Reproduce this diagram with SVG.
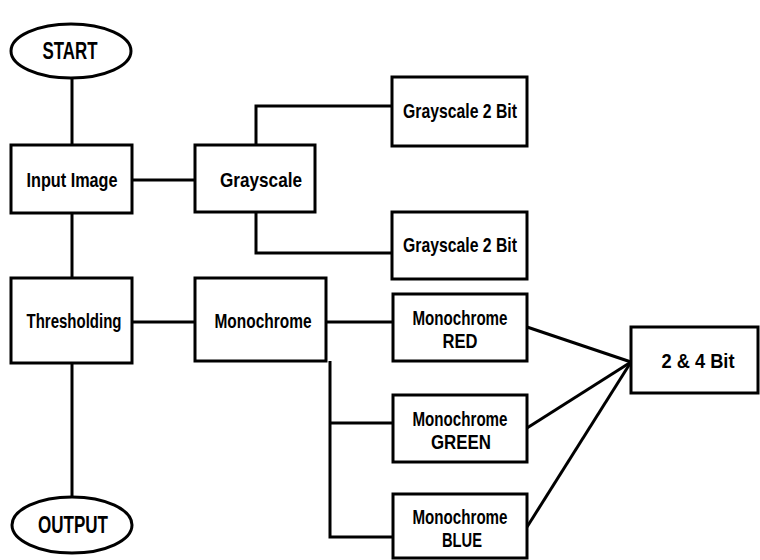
<svg xmlns="http://www.w3.org/2000/svg" width="760" height="560" viewBox="0 0 760 560">
<style>
.box{fill:#fff;stroke:#000;stroke-width:3}
.ln{fill:none;stroke:#000;stroke-width:3}
text{font-family:"Liberation Sans",Arial,sans-serif;font-weight:bold;font-size:21px;text-anchor:middle;fill:#000}
.big{font-size:23px}
</style>
<rect width="760" height="560" fill="#fff"/>
<g id="connectors">
<line class="ln" x1="72" y1="78" x2="72" y2="145"/>
<line class="ln" x1="72" y1="213" x2="72" y2="278"/>
<line class="ln" x1="72" y1="363" x2="72" y2="497"/>
<line class="ln" x1="132" y1="180" x2="195" y2="180"/>
<polyline class="ln" points="256,145 256,106 392,106"/>
<polyline class="ln" points="256,212 256,253 392,253"/>
<line class="ln" x1="132" y1="322" x2="195" y2="322"/>
<line class="ln" x1="326" y1="322" x2="393" y2="322"/>
<polyline class="ln" points="330,361 330,537 393,537"/>
<line class="ln" x1="330" y1="423" x2="393" y2="423"/>
<line class="ln" x1="527" y1="327" x2="631" y2="362"/>
<line class="ln" x1="527" y1="428" x2="631" y2="362"/>
<line class="ln" x1="527" y1="527" x2="631" y2="362"/>
</g>
<g id="start"><ellipse class="box" cx="71" cy="51" rx="60" ry="27"/><text class="big" x="70" y="59" textLength="55" lengthAdjust="spacingAndGlyphs">START</text></g>
<g id="input"><rect class="box" x="11" y="145" width="121" height="68"/><text x="72" y="187" textLength="91" lengthAdjust="spacingAndGlyphs">Input Image</text></g>
<g id="grayscale"><rect class="box" x="195" y="145" width="120" height="67"/><text x="261" y="187" textLength="82" lengthAdjust="spacingAndGlyphs">Grayscale</text></g>
<g id="gray2a"><rect class="box" x="392" y="77" width="135" height="69"/><text x="460" y="118" textLength="114" lengthAdjust="spacingAndGlyphs">Grayscale 2 Bit</text></g>
<g id="gray2b"><rect class="box" x="392" y="212" width="135" height="67"/><text x="460" y="252" textLength="114" lengthAdjust="spacingAndGlyphs">Grayscale 2 Bit</text></g>
<g id="thresholding"><rect class="box" x="11" y="278" width="121" height="85"/><text x="74" y="328" textLength="95" lengthAdjust="spacingAndGlyphs">Thresholding</text></g>
<g id="monochrome"><rect class="box" x="195" y="278" width="131" height="83"/><text x="263" y="328" textLength="97" lengthAdjust="spacingAndGlyphs">Monochrome</text></g>
<g id="mono-red"><rect class="box" x="393" y="294" width="134" height="67"/><text x="460" y="325" textLength="95" lengthAdjust="spacingAndGlyphs">Monochrome</text><text x="460" y="348" textLength="35" lengthAdjust="spacingAndGlyphs">RED</text></g>
<g id="mono-green"><rect class="box" x="393" y="395" width="134" height="67"/><text x="460" y="426" textLength="95" lengthAdjust="spacingAndGlyphs">Monochrome</text><text x="461" y="449" textLength="60" lengthAdjust="spacingAndGlyphs">GREEN</text></g>
<g id="mono-blue"><rect class="box" x="393" y="494" width="134" height="64"/><text x="460" y="524" textLength="95" lengthAdjust="spacingAndGlyphs">Monochrome</text><text x="462" y="547" textLength="40" lengthAdjust="spacingAndGlyphs">BLUE</text></g>
<g id="bits"><rect class="box" x="631" y="327" width="127" height="66"/><text x="698" y="368" textLength="73" lengthAdjust="spacingAndGlyphs">2 &amp; 4 Bit</text></g>
<g id="output"><ellipse class="box" cx="72" cy="525" rx="60" ry="28"/><text class="big" x="73" y="533" textLength="70" lengthAdjust="spacingAndGlyphs">OUTPUT</text></g>
</svg>
